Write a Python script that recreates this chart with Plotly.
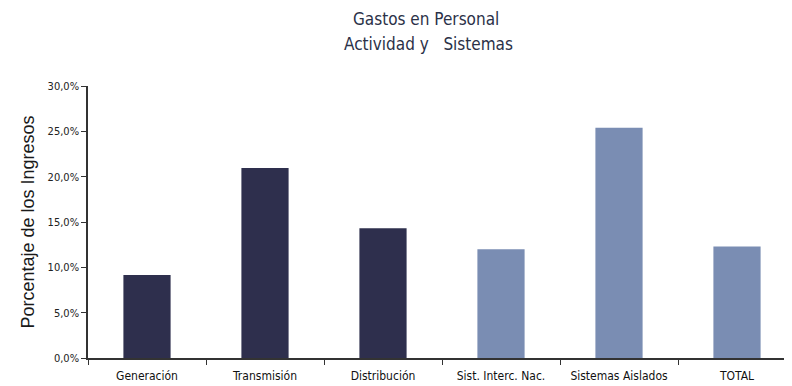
import plotly.graph_objects as go

categories = ["Generación", "Transmisión", "Distribución", "Sist. Interc. Nac.", "Sistemas Aislados", "TOTAL"]
values = [9.15, 20.95, 14.3, 12.0, 25.4, 12.3]
bar_colors = ["#2E2F4D", "#2E2F4D", "#2E2F4D", "#7A8DB3", "#7A8DB3", "#7A8DB3"]
y_ticks = [0, 5, 10, 15, 20, 25, 30]
y_tick_labels = [f"{v:.1f}".replace(".", ",") + "%" for v in y_ticks]

narrow = "DejaVu Sans Condensed, Liberation Sans Narrow, Arial Narrow, sans-serif"

# page has an 8px body margin: figure coordinates = screen coordinates - 8
W, H = 792, 386
L, T = 80, 78
B = H - (358 - 8)
R = W - (788)

fig = go.Figure(go.Bar(x=categories, y=values, marker=dict(color=bar_colors, line=dict(width=0)), width=0.4))

pw = W - L - R
ph = H - T - B
fig.update_layout(
    width=W, height=H,
    margin=dict(l=L, r=R, t=T, b=B, autoexpand=False),
    paper_bgcolor="white", plot_bgcolor="white",
    showlegend=False,
    annotations=[
        dict(text="Gastos en Personal", xref="paper", yref="paper", x=(426 - 8 - L) / pw, y=1 + (T - (19 - 8)) / ph,
             showarrow=False, font=dict(family=narrow, size=17, color="#2B3148"), xanchor="center", yanchor="middle"),
        dict(text="Actividad y   Sistemas", xref="paper", yref="paper", x=(428 - 8 - L) / pw, y=1 + (T - (44 - 8)) / ph,
             showarrow=False, font=dict(family=narrow, size=17, color="#2B3148"), xanchor="center", yanchor="middle"),
    ],
)
fig.update_xaxes(
    showline=True, linecolor="#333333", linewidth=1.5,
    ticks="outside", tickson="boundaries", ticklen=5, tickcolor="#333333",
    tickfont=dict(family=narrow, size=12, color="#111111"),
    ticklabelstandoff=6,
    showgrid=False, range=[-0.5, 5.5],
)
fig.update_yaxes(
    range=[0, 30], tickvals=y_ticks, ticktext=y_tick_labels,
    showline=True, linecolor="#333333", linewidth=1.5,
    ticks="outside", ticklen=5, tickcolor="#333333",
    tickfont=dict(family=narrow, size=11, color="#222222"),
    showgrid=False, zeroline=False,
    title=dict(text="Porcentaje de los Ingresos", font=dict(family="Liberation Sans, Arial, sans-serif", size=18, color="#1a1a1a"), standoff=8),
)

fig.write_html("out.html")
